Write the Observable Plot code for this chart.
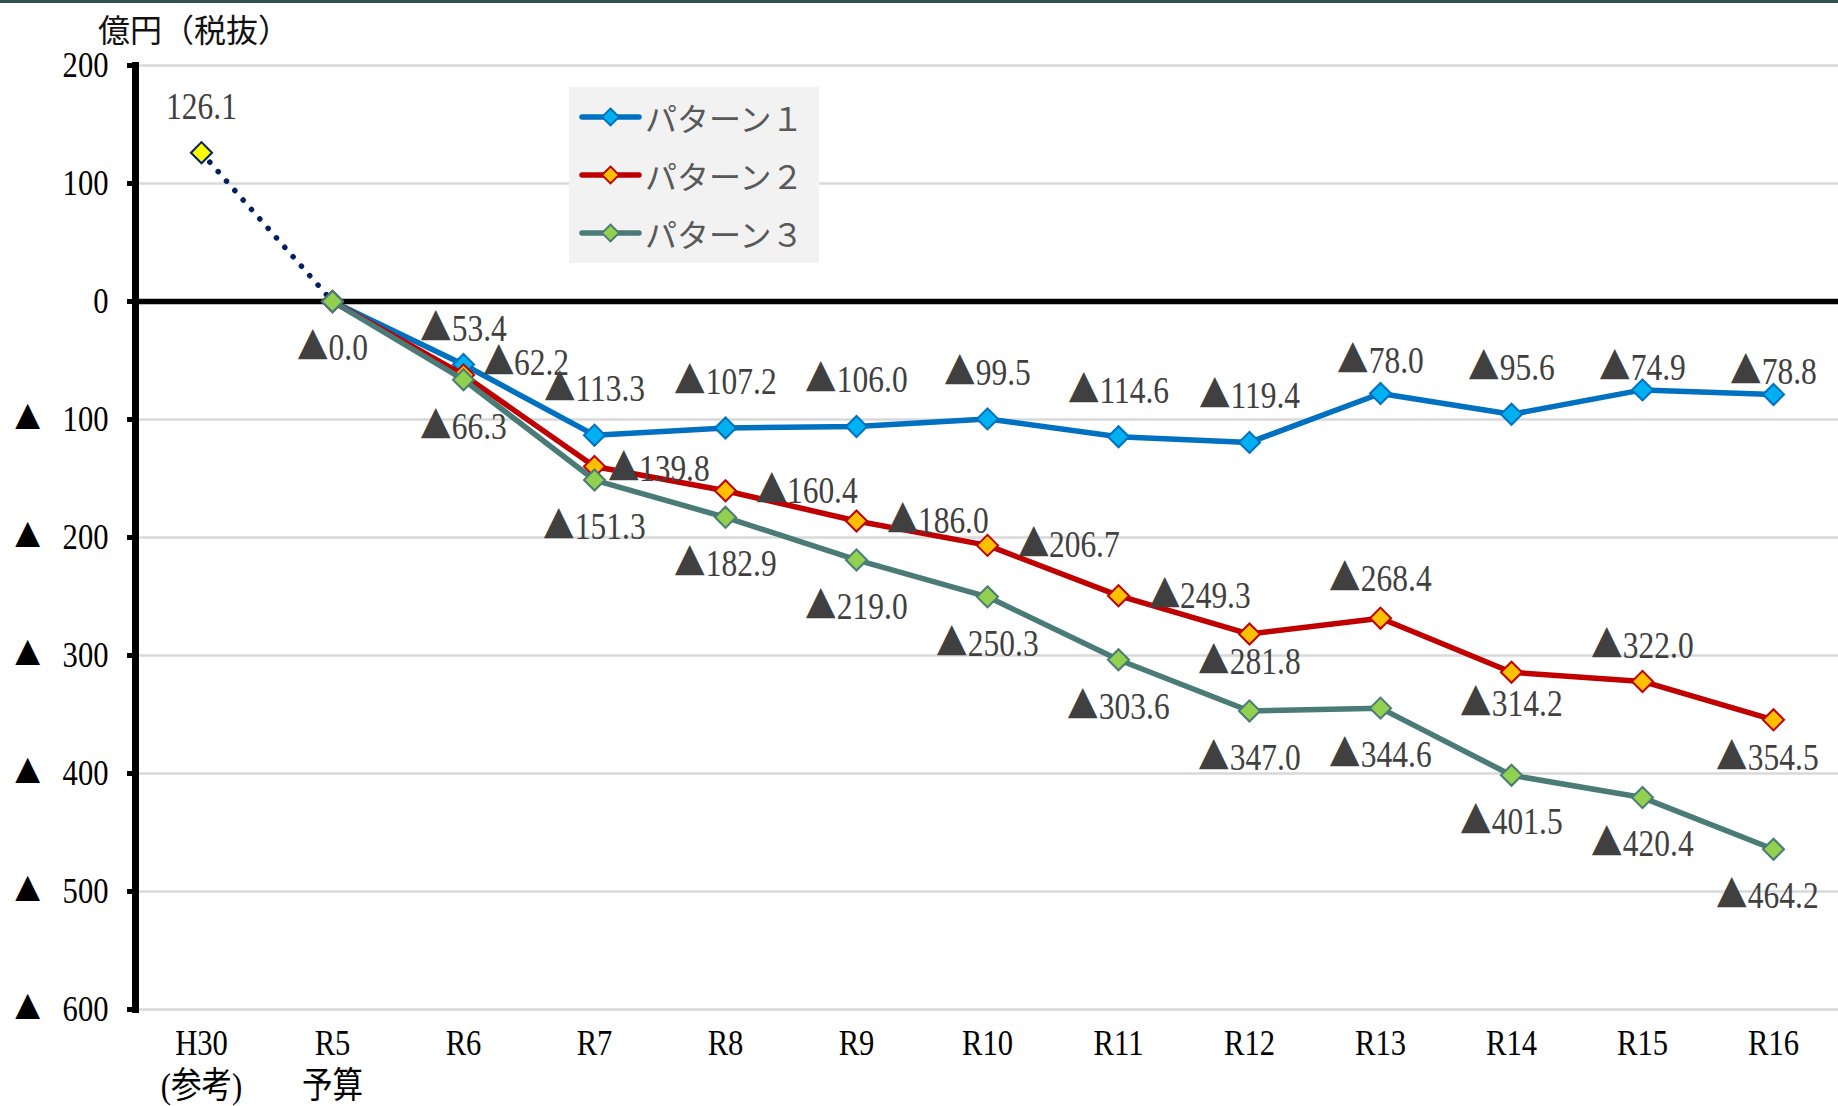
<!DOCTYPE html>
<html>
<head>
<meta charset="utf-8">
<script src="https://cdn.jsdelivr.net/npm/d3@7"></script>
<script src="https://cdn.jsdelivr.net/npm/@observablehq/plot@0.6"></script>
<style>
  @font-face {
    font-family: "TriCJK";
    src: local("Noto Sans CJK JP Regular"), local("NotoSansCJKjp-Regular"), local("Noto Sans CJK JP");
    unicode-range: U+25B2;
  }
  html, body { margin: 0; padding: 0; background: #fff; overflow: hidden; }
  #wrap { position: relative; width: 1838px; height: 1106px; background: #fff; }
  #topbar { position: absolute; left: 0; top: 0; width: 1838px; height: 3px; background: #33524d; z-index: 3; }
  #unit { position: absolute; left: 98px; top: 10px; font-family: "Noto Sans CJK JP", sans-serif; font-size: 32px; line-height: 36px; color: #111; z-index: 2; white-space: nowrap; }
  #legend { position: absolute; left: 569px; top: 87px; width: 250px; height: 176px; background: #f2f2f2; z-index: 2; }
  .lg-row { position: absolute; left: 0; height: 40px; width: 250px; }
  .lg-row svg { position: absolute; left: 8px; top: 10px; }
  .lg-row span { position: absolute; left: 76px; top: 0px; font-family: "Noto Sans CJK JP", sans-serif; font-size: 32px; line-height: 40px; color: #595959; white-space: nowrap; }
  #chart { position: absolute; left: 0; top: 0; }
</style>
</head>
<body>
<div id="wrap">
  <div id="topbar"></div>
  <div id="chart"></div>
  <div id="unit"></div>
  <div id="legend"></div>
</div>
<script>
// ---------------- data ----------------
const categories = ["H30", "R5", "R6", "R7", "R8", "R9", "R10", "R11", "R12", "R13", "R14", "R15", "R16"];
const xTickLabels = ["H30\n(参考)", "R5\n予算", "R6", "R7", "R8", "R9", "R10", "R11", "R12", "R13", "R14", "R15", "R16"];
const seriesCategories = ["R5", "R6", "R7", "R8", "R9", "R10", "R11", "R12", "R13", "R14", "R15", "R16"];
const h30Value = 126.1;
const pattern1 = [0, -53.4, -113.3, -107.2, -106.0, -99.5, -114.6, -119.4, -78.0, -95.6, -74.9, -78.8];
const pattern2 = [0, -62.2, -139.8, -160.4, -186.0, -206.7, -249.3, -281.8, -268.4, -314.2, -322.0, -354.5];
const pattern3 = [0, -66.3, -151.3, -182.9, -219.0, -250.3, -303.6, -347.0, -344.6, -401.5, -420.4, -464.2];
const seriesNames = ["パターン１", "パターン２", "パターン３"];
const yTicks = [200, 100, 0, -100, -200, -300, -400, -500, -600];
const yTickLabels = ["200", "100", "0", "▲ 100", "▲ 200", "▲ 300", "▲ 400", "▲ 500", "▲ 600"];
const unitLabel = "億円（税抜）";

// ---------------- styles / placement ----------------
const FONT = '"TriCJK", "Liberation Serif", "Noto Sans CJK JP", serif';
const CJK = '"Noto Sans CJK JP", sans-serif';
const styles = [
  {line: "#0070C0", fill: "#00B0F0", stroke: "#0070C0"},
  {line: "#C00000", fill: "#FFC000", stroke: "#C00000"},
  {line: "#4A7B76", fill: "#92D050", stroke: "#4A7B76"}
];
const placement = [
  {def: {a: "middle", dx: 0, dy: -46}, skip: ["R5"], R6: {dy: -35}, R13: {dy: -32}, R15: {dy: -22}, R16: {dy: -22}},
  {def: {a: "start", dx: 30, dy: 0}, skip: ["R5"], R6: {dx: 19, dy: -12}, R7: {dx: 13, dy: 3},
    R12: {a: "middle", dx: 0, dy: 28}, R13: {a: "middle", dx: 0, dy: -39}, R14: {a: "middle", dx: 0, dy: 32},
    R15: {a: "middle", dx: 0, dy: -35}, R16: {a: "middle", dx: -6, dy: 38}},
  {def: {a: "middle", dx: 0, dy: 47}, skip: [], R16: {dx: -6}}
];

const fmt = v => v > 0 ? v.toFixed(1) : "▲" + Math.abs(v).toFixed(1);

const seriesValues = [pattern1, pattern2, pattern3];
const seriesData = seriesValues.map(vals => seriesCategories.map((c, i) => ({x: c, y: vals[i]})));

const LABEL_SIZE = 37;
const marks = [];
marks.push(Plot.ruleY(yTicks.filter(d => d !== 0), {stroke: "#d9d9d9", strokeWidth: 2.5}));
marks.push(Plot.ruleY([0], {stroke: "#000", strokeWidth: 5.5}));
marks.push(Plot.frame({anchor: "left", stroke: "#000", strokeWidth: 7}));
marks.push(Plot.axisY({
  ticks: yTicks, tickSize: 8, strokeWidth: 5, tickPadding: 19, label: null,
  tickFormat: d => yTickLabels[yTicks.indexOf(d)].replace("▲", "").trim(),
  fontSize: 36, fontFamily: FONT
}));
marks.push(Plot.text(yTicks.filter((d, i) => yTickLabels[i].startsWith("▲")), {
  y: d => d, text: () => "▲", frameAnchor: "left", dx: -121, textAnchor: "start",
  fontSize: 31, fill: "#000", fontFamily: CJK
}));
marks.push(Plot.axisX({
  tickSize: 0, tickPadding: 15, lineAnchor: "top", lineHeight: 1.2, label: null,
  tickFormat: d => xTickLabels[categories.indexOf(d)],
  fontSize: 36, fontFamily: FONT
}));
marks.push(Plot.line([{x: categories[0], y: h30Value}, {x: seriesCategories[0], y: pattern1[0]}], {
  x: "x", y: "y", stroke: "#002060", strokeWidth: 5.5, strokeDasharray: "0.1,12.5", strokeLinecap: "round"
}));
seriesData.forEach((data, k) => {
  marks.push(Plot.line(data, {x: "x", y: "y", stroke: styles[k].line, strokeWidth: 5.5, strokeLinejoin: "round"}));
  marks.push(Plot.dot(data, {x: "x", y: "y", symbol: "diamond2", r: 9.5, fill: styles[k].fill, stroke: styles[k].stroke, strokeWidth: 2}));
});
marks.push(Plot.dot([{x: categories[0], y: h30Value}], {x: "x", y: "y", symbol: "diamond2", r: 9.5, fill: "#FFFF00", stroke: "#002060", strokeWidth: 2}));

marks.push(Plot.text([{x: categories[0], y: h30Value}], {x: "x", y: "y", text: d => fmt(d.y), dy: -46, fontSize: LABEL_SIZE, fill: "#404040", fontFamily: FONT}));
seriesData.forEach((data, k) => {
  const cfg = placement[k];
  data.forEach(d => {
    if (cfg.skip.includes(d.x)) return;
    const p = Object.assign({}, cfg.def, cfg[d.x] || {});
    marks.push(Plot.text([d], {x: "x", y: "y", text: dd => fmt(dd.y), dx: p.dx, dy: p.dy, textAnchor: p.a,
      fontSize: LABEL_SIZE, fill: "#404040", fontFamily: FONT}));
  });
});

function render() {
  const chart = Plot.plot({
    width: 1838, height: 1106,
    marginLeft: 135, marginRight: 0, marginTop: 65, marginBottom: 97,
    x: {type: "point", domain: categories, padding: 0.5, axis: null},
    y: {domain: [-600, 200], axis: null},
    style: {fontFamily: FONT, background: "transparent", color: "#000", overflow: "visible"},
    marks
  });
  document.getElementById("chart").appendChild(chart);

  // condense glyphs to imitate the narrow Mincho figures
  chart.querySelectorAll("text").forEach(t => {
    const tsp = t.querySelectorAll("tspan");
    const targets = tsp.length ? Array.from(tsp) : [t];
    targets.forEach(el => {
      const L = el.getComputedTextLength();
      if (L > 0) {
        el.setAttribute("textLength", (L * 0.85).toFixed(1));
        el.setAttribute("lengthAdjust", "spacingAndGlyphs");
      }
    });
  });
}

document.getElementById("unit").textContent = unitLabel;

const legend = document.getElementById("legend");
const rowTops = [10, 68, 126];
seriesNames.forEach((name, k) => {
  const row = document.createElement("div");
  row.className = "lg-row";
  row.style.top = rowTops[k] + "px";
  row.innerHTML = `<svg width="66" height="20" viewBox="0 0 66 20">
    <line x1="5" y1="10" x2="62" y2="10" stroke="${styles[k].line}" stroke-width="5.5" stroke-linecap="round"/>
    <polygon points="33.5,1.5 42,10 33.5,18.5 25,10" fill="${styles[k].fill}" stroke="${styles[k].stroke}" stroke-width="1.8"/>
  </svg><span></span>`;
  row.querySelector("span").textContent = name;
  legend.appendChild(row);
});

// make sure the ▲-only face is loaded before measuring text
if (document.fonts && document.fonts.load) {
  document.fonts.load(`${LABEL_SIZE}px "TriCJK"`, "▲").then(render, render);
} else {
  render();
}
</script>
</body>
</html>
